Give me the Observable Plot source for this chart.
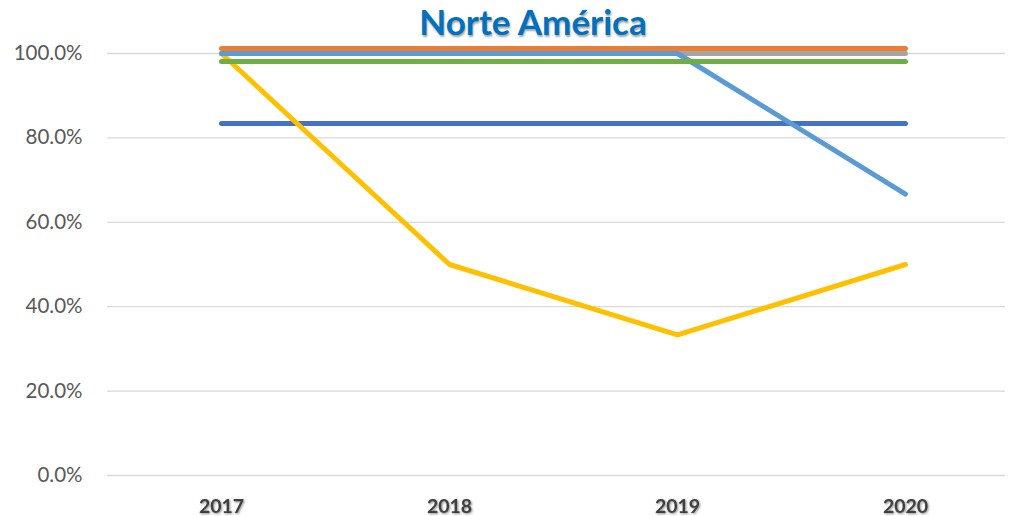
<!DOCTYPE html>
<html>
<head>
<meta charset="utf-8">
<script src="https://cdn.jsdelivr.net/npm/d3@7"></script>
<script src="https://cdn.jsdelivr.net/npm/@observablehq/plot@0.6"></script>
<style>
  html, body { margin: 0; padding: 0; background: #fff; }
  #wrap { position: relative; width: 1017px; height: 516px; }
  #title { position: absolute; left: 0; width: 1066px; top: 0px; text-align: center;
    font-family: Lato, sans-serif; font-weight: bold; font-size: 35px; color: #0070C0;
    text-shadow: 1px 2px 2px rgba(0,0,0,0.35); }
  .xax text { filter: drop-shadow(1px 1px 1px rgba(0,0,0,0.45)); }
</style>
</head>
<body>
<div id="wrap"><div id="title">Norte América</div></div>
<script>
const years = ["2017", "2018", "2019", "2020"];
const seriesNames = ["S1", "S2", "S3", "S4", "S5", "S6"];
const seriesColors = ["#4472C4", "#ED7D31", "#A5A5A5", "#FFC000", "#5B9BD5", "#70AD47"];
const s1 = [0.834, 0.834, 0.834, 0.834];
const s2 = [1.012, 1.012, 1.012, 1.012];
const s3 = [1.0, 1.0, 1.0, 1.0];
const s4 = [1.0, 0.5, 0.333, 0.5];
const s5 = [1.0, 1.0, 1.0, 0.667];
const s6 = [0.981, 0.981, 0.981, 0.981];
const yTicks = [0, 0.2, 0.4, 0.6, 0.8, 1.0];

const allSeries = [s1, s2, s3, s4, s5, s6];
const data = [];
allSeries.forEach((vals, i) => vals.forEach((v, j) => data.push({series: seriesNames[i], year: years[j], value: v})));

const chart = Plot.plot({
  width: 1017,
  height: 516,
  marginLeft: 107,
  marginRight: 12,
  marginTop: 53,
  marginBottom: 41,
  style: {fontFamily: "Lato, sans-serif", background: "#fff"},
  x: {type: "point", domain: years, range: [221, 905], padding: 0},
  y: {domain: [0, 1]},
  color: {domain: seriesNames, range: seriesColors},
  marks: [
    Plot.gridY(yTicks, {stroke: "#d9d9d9", strokeOpacity: 1, strokeWidth: 1.3}),
    Plot.axisY(yTicks, {tickFormat: d3.format(".1%"), tickSize: 0, tickPadding: 25, fontSize: 20.5, fill: "#595959", label: null}),
    Plot.axisX({tickSize: 0, tickPadding: 24, fontSize: 19.5, fontWeight: "bold", fill: "#404040", label: null, className: "xax"}),
    Plot.line(data, {x: "year", y: "value", z: "series", stroke: "series", strokeWidth: 5, strokeLinecap: "round", strokeLinejoin: "round"})
  ]
});
document.getElementById("wrap").appendChild(chart);
</script>
</body>
</html>
